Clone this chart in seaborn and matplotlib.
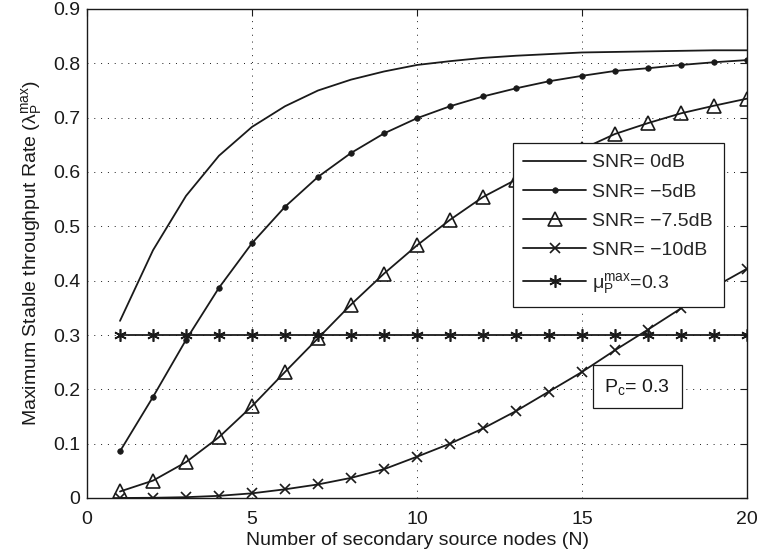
import numpy as np
import pandas as pd
import matplotlib
matplotlib.use("Agg")
import matplotlib.pyplot as plt
import seaborn as sns

N = list(range(1, 21))
snr0 = [0.326, 0.456, 0.556, 0.630, 0.683, 0.721, 0.750, 0.770, 0.785, 0.797,
        0.804, 0.810, 0.814, 0.817, 0.820, 0.821, 0.822, 0.823, 0.824, 0.824]
snr5 = [0.086, 0.186, 0.291, 0.387, 0.469, 0.536, 0.591, 0.635, 0.671, 0.699,
        0.721, 0.739, 0.754, 0.767, 0.777, 0.786, 0.791, 0.797, 0.802, 0.806]
snr75 = [0.012, 0.032, 0.066, 0.112, 0.169, 0.232, 0.294, 0.356, 0.413, 0.465,
         0.512, 0.554, 0.586, 0.614, 0.642, 0.670, 0.690, 0.708, 0.722, 0.735]
snr10 = [0.0, 0.0004, 0.0015, 0.004, 0.0086, 0.016, 0.025, 0.037, 0.053, 0.076,
         0.100, 0.128, 0.160, 0.196, 0.232, 0.272, 0.310, 0.349, 0.388, 0.422]
mu = [0.3] * 20

labels = ["SNR= 0dB", "SNR= \u22125dB", "SNR= \u22127.5dB", "SNR= \u221210dB",
          r"$\mathregular{\mu_P^{max}}$=0.3"]

sns.set_theme(style="white")
plt.rcParams["font.family"] = ["Liberation Sans", "DejaVu Sans"]
plt.rcParams["mathtext.fontset"] = "custom"
plt.rcParams["mathtext.rm"] = "Liberation Sans"
plt.rcParams["mathtext.it"] = "Liberation Sans"
plt.rcParams["mathtext.bf"] = "Liberation Sans:bold"
plt.rcParams["axes.unicode_minus"] = True

fs = 14
fig = plt.figure(figsize=(7.59, 5.59), dpi=100)
ax = fig.add_axes([87/759, 1 - 498/559, 660/759, 489/559])

series = [snr0, snr5, snr75, snr10, mu]
markers = [None, "o", "^", "x", (6, 2, 0)]
msizes = [0, 4, 10, 7, 9]
for ys, lab, m, ms in zip(series, labels, markers, msizes):
    df = pd.DataFrame({"N": N, "v": ys})
    kw = dict(marker=m, markersize=ms, markerfacecolor="none" if m == "^" else "k",
              markeredgecolor="k", markeredgewidth=1.2) if m is not None else {}
    if m == "o":
        kw["markerfacecolor"] = "k"
        kw["markeredgewidth"] = 0.5
    sns.lineplot(data=df, x="N", y="v", ax=ax, color="k", linewidth=1.3,
                 label=lab, **kw)

ax.set_xlim(0, 20)
ax.set_ylim(0, 0.9)
ax.set_xticks([0, 5, 10, 15, 20])
ax.set_yticks([0, 0.1, 0.2, 0.3, 0.4, 0.5, 0.6, 0.7, 0.8, 0.9])
ax.set_yticklabels(["0", "0.1", "0.2", "0.3", "0.4", "0.5", "0.6", "0.7", "0.8", "0.9"])
ax.grid(True, color="k", linestyle=(0, (1, 6)), linewidth=0.7)
ax.tick_params(direction="in", length=5, width=0.8, top=True, right=True,
               labelsize=fs, colors="k", pad=5)
ax.tick_params(axis="x", pad=9)
for s in ax.spines.values():
    s.set_color("k")
    s.set_linewidth(1.0)
ax.set_xlabel("Number of secondary source nodes (N)", fontsize=fs, color="k", labelpad=3)
ax.set_ylabel(r"Maximum Stable throughput Rate ($\mathregular{\lambda_P^{max}}$)",
              fontsize=fs, color="k", labelpad=6)

leg = ax.legend(loc="upper left", bbox_to_anchor=((512.7 - 87) / 660, (498 - 143) / 489),
                frameon=True, fancybox=False, edgecolor="k", fontsize=fs,
                handlelength=3.2, borderpad=0.55, labelspacing=0.6, handletextpad=0.35,
                borderaxespad=0)
leg.get_frame().set_linewidth(0.9)
leg.get_frame().set_alpha(1)

ax.text(15.68, 0.205, r"P$_\mathregular{c}$= 0.3", fontsize=fs, color="k",
        ha="left", va="center",
        bbox=dict(boxstyle="square,pad=0.6", fc="white", ec="k", lw=0.9))

fig.savefig("out.png", dpi=100)
